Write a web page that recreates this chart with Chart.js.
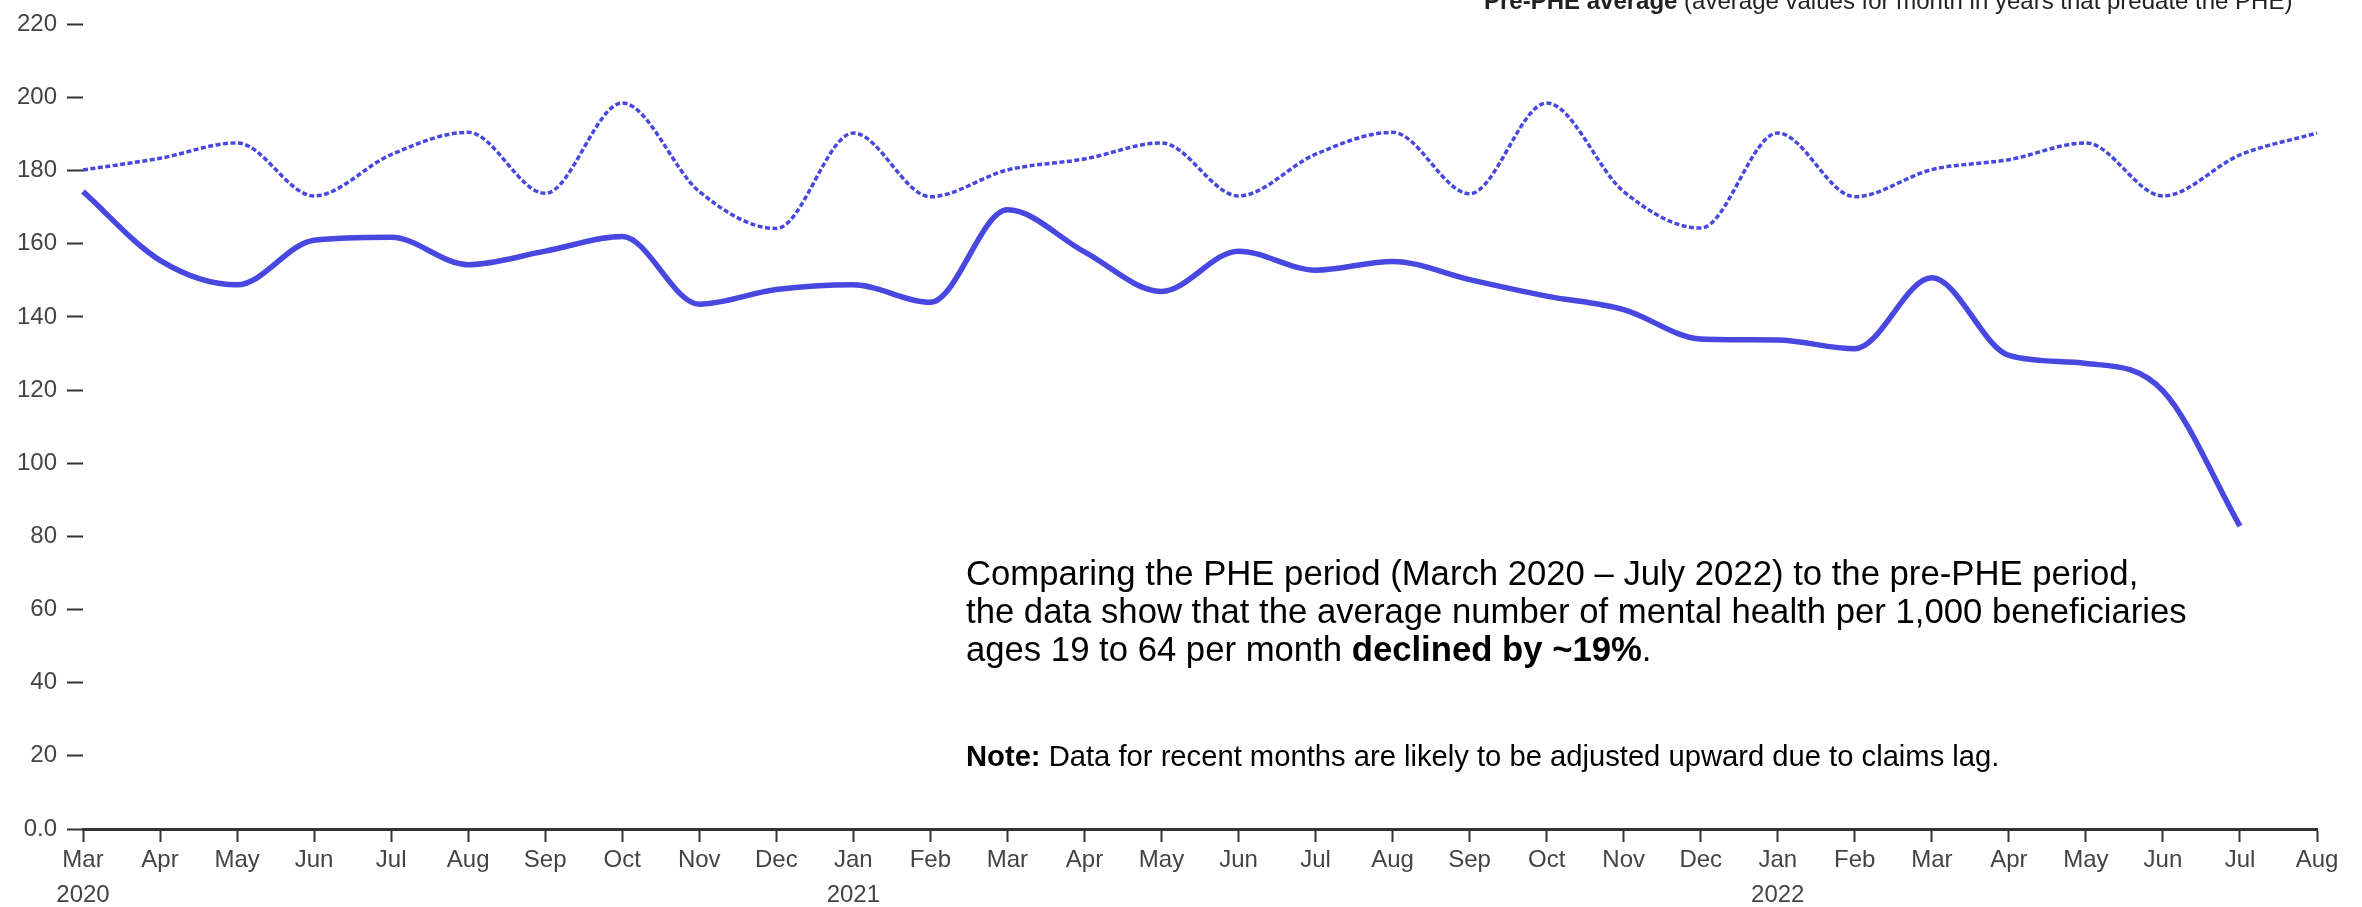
<!DOCTYPE html>
<html>
<head>
<meta charset="utf-8">
<script src="https://cdn.jsdelivr.net/npm/chart.js@4.4.1/dist/chart.umd.min.js"></script>
<style>
  body { margin: 0; background: #fff; }
  #wrap { position: relative; width: 2362px; height: 907px; overflow: hidden; font-family: "Liberation Sans", Arial, sans-serif; }
  #legendNote { position: absolute; left: 1484px; top: -11px; font-size: 24px; line-height: 1; color: #222; white-space: nowrap; }
  #summary { position: absolute; left: 966px; top: 554px; font-size: 34.7px; line-height: 38px; color: #000; white-space: nowrap; }
  #note { position: absolute; left: 966px; top: 742px; font-size: 29.2px; line-height: 1; color: #000; white-space: nowrap; }
</style>
</head>
<body>
<div id="wrap">
  <canvas id="mhChart" width="2362" height="907"></canvas>
  <div id="legendNote"><b>Pre-PHE average</b> (average values for month in years that predate the PHE)</div>
  <div id="summary">Comparing the PHE period (March 2020 – July 2022) to the pre-PHE period,<br>the data show that the average number of mental health per 1,000 beneficiaries<br>ages 19 to 64 per month <b>declined by ~19%</b>.</div>
  <div id="note"><b>Note:</b> Data for recent months are likely to be adjusted upward due to claims lag.</div>
</div>
<script>
    const months = ['Mar', 'Apr', 'May', 'Jun', 'Jul', 'Aug', 'Sep', 'Oct', 'Nov', 'Dec', 'Jan', 'Feb',
        'Mar', 'Apr', 'May', 'Jun', 'Jul', 'Aug', 'Sep', 'Oct', 'Nov', 'Dec', 'Jan', 'Feb',
        'Mar', 'Apr', 'May', 'Jun', 'Jul', 'Aug'];
    const years = ['2020', '', '', '', '', '', '', '', '', '', '2021', '',
        '', '', '', '', '', '', '', '', '', '', '2022', '',
        '', '', '', '', '', ''];

    // services per 1,000 beneficiaries, PHE period (Mar 2020 - Jul 2022)
    const pheValues = [174.3, 155.5, 148.8, 161, 161.8, 154.3, 158, 162, 143.5, 147.5, 148.8, 144,
        169.3, 157.8, 147, 158, 152.8, 155.2, 150.2, 145.7, 142, 134, 133.7, 131.3,
        150.7, 129.5, 127.3, 119.8, 82.8, null];

    // pre-PHE monthly average
    const prePheValues = [180.2, 183.4, 187.6, 173.1, 184.4, 190.5, 173.8, 198.5, 174.3, 164.2, 190.3, 172.9,
        180.2, 183.2, 187.6, 173.1, 184.5, 190.5, 173.7, 198.5, 174.3, 164.3, 190.3, 172.9,
        180.3, 183, 187.6, 173.1, 184.3, 190.3];

    const yTicks = { min: 0, max: 220, step: 20 };

    const lineColor = '#4848e0';
    const axisColor = '#333';
    const labelColor = '#444';

    Chart.defaults.font.family = '"Liberation Sans", Arial, sans-serif';

    const labels = months.map((m, i) => years[i] ? [m, years[i]] : m);

    const ctx = document.getElementById('mhChart').getContext('2d');
    new Chart(ctx, {
        type: 'line',
        data: {
            labels: labels,
            datasets: [{
                label: 'PHE period',
                data: pheValues,
                borderColor: lineColor,
                borderWidth: 5.5,
                pointRadius: 0,
                cubicInterpolationMode: 'monotone',
                fill: false
            }, {
                label: 'Pre-PHE average',
                data: prePheValues,
                borderColor: lineColor,
                borderWidth: 3.5,
                borderDash: [5, 2.5],
                pointRadius: 0,
                cubicInterpolationMode: 'monotone',
                fill: false
            }]
        },
        options: {
            responsive: false,
            animation: false,
            layout: { padding: { top: 21, right: 45, left: 0, bottom: 0 } },
            plugins: {
                legend: { display: false },
                tooltip: { enabled: false }
            },
            scales: {
                x: {
                    offset: false,
                    border: { display: true, color: axisColor, width: 3 },
                    grid: {
                        display: true,
                        drawOnChartArea: false,
                        drawTicks: true,
                        tickLength: 13,
                        tickWidth: 2,
                        tickColor: axisColor
                    },
                    ticks: {
                        autoSkip: false,
                        maxRotation: 0,
                        padding: 1,
                        color: labelColor,
                        font: { size: 24, lineHeight: 1.46 }
                    },
                    afterFit: function (scale) { scale.height = 78; }
                },
                y: {
                    min: yTicks.min,
                    max: yTicks.max,
                    border: { display: false },
                    grid: {
                        display: true,
                        drawOnChartArea: false,
                        drawTicks: true,
                        tickLength: 16,
                        tickWidth: 2,
                        tickColor: axisColor
                    },
                    ticks: {
                        stepSize: yTicks.step,
                        padding: 10,
                        color: labelColor,
                        font: { size: 24 },
                        callback: function (value) {
                            return value === 0 ? '0.0' : value;
                        }
                    },
                    afterFit: function (scale) { scale.width = 83; }
                }
            }
        }
    });
</script>
</body>
</html>
